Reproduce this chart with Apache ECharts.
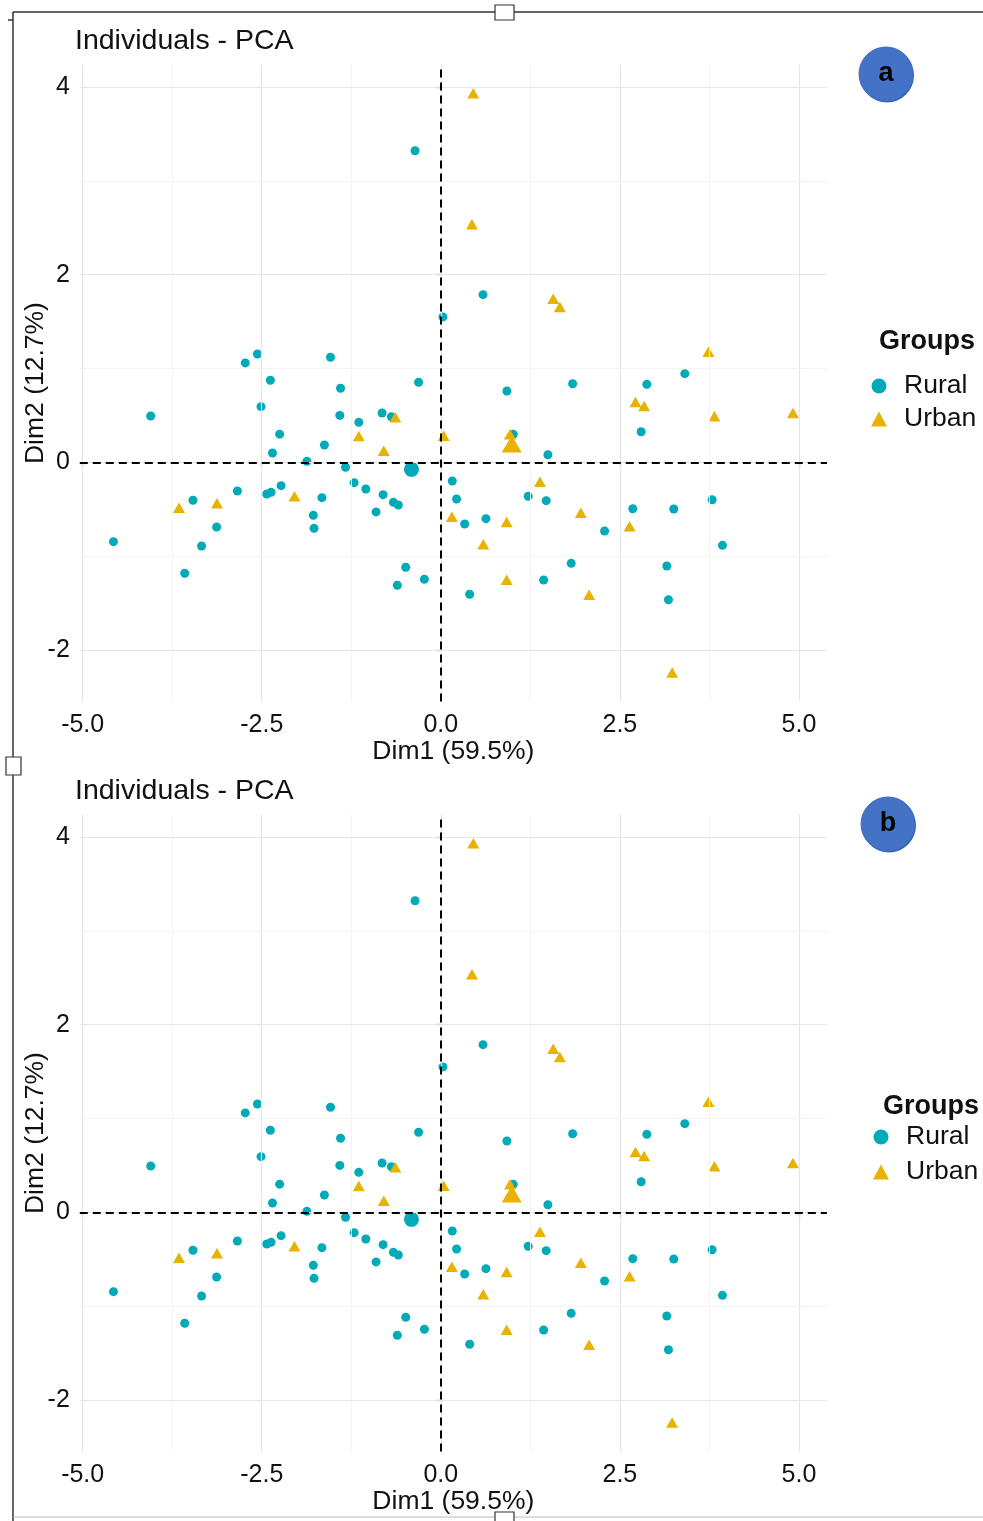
<!DOCTYPE html>
<html>
<head>
<meta charset="utf-8">
<title>Individuals - PCA</title>
<script src="https://cdn.jsdelivr.net/npm/echarts@6/dist/echarts.min.js"></script>
<style>
  html, body { margin: 0; padding: 0; background: #ffffff; }
  #chart { width: 983px; height: 1521px; }
</style>
</head>
<body>
<div id="chart"></div>
<script>
// PCA individual scores (Dim1, Dim2) by group
const ruralPoints = [
  [0.03, 1.55], [-2.56, 1.155], [-2.73, 1.06], [-1.54, 1.12], [-2.38, 0.875],
  [-0.31, 0.853], [-1.40, 0.79], [-4.05, 0.494], [-2.51, 0.593], [-1.41, 0.50],
  [-0.82, 0.526], [-0.69, 0.486], [-1.145, 0.426], [-2.25, 0.30], [-1.625, 0.184],
  [-2.35, 0.099], [-1.87, 0.01], [-1.33, -0.053], [0.16, -0.199], [0.22, -0.391],
  [-1.21, -0.217], [-1.047, -0.285], [-0.806, -0.345], [-0.662, -0.427], [-0.593, -0.455],
  [-0.904, -0.529], [-2.23, -0.249], [-2.43, -0.338], [-2.37, -0.32], [-2.84, -0.306],
  [-1.66, -0.377], [-1.78, -0.565], [-1.77, -0.704], [-3.46, -0.405], [-3.13, -0.69],
  [-3.34, -0.892], [-4.57, -0.846], [-3.575, -1.183], [-0.49, -1.119], [-0.607, -1.311],
  [-0.23, -1.247], [0.923, 0.76], [1.84, 0.838], [2.876, 0.831], [3.406, 0.945],
  [2.797, 0.326], [1.011, 0.298], [1.495, 0.081], [0.333, -0.658], [0.63, -0.601],
  [1.22, -0.362], [1.471, -0.409], [2.68, -0.495], [3.252, -0.498], [3.787, -0.399],
  [2.286, -0.732], [3.932, -0.885], [1.82, -1.077], [3.155, -1.106], [1.435, -1.255],
  [0.403, -1.407], [3.178, -1.465], [-0.36, 3.322], [0.589, 1.787]
];
const urbanPoints = [
  [0.453, 3.934], [0.435, 2.537], [1.569, 1.744], [1.662, 1.656], [3.736, 1.179],
  [2.718, 0.643], [2.838, 0.60], [3.82, 0.49], [4.916, 0.526], [0.04, 0.284],
  [0.965, 0.30], [1.384, -0.207], [1.955, -0.537], [0.154, -0.58], [0.919, -0.636],
  [0.593, -0.874], [2.635, -0.682], [0.919, -1.251], [2.071, -1.411], [3.23, -2.24],
  [-0.635, 0.48], [-1.145, 0.28], [-0.796, 0.124], [-2.043, -0.362], [-3.655, -0.484],
  [-3.125, -0.437]
];
// group centres
const ruralMean = [-0.41, -0.075];
const urbanMean = [0.99, 0.195];

// axis ranges and breaks
const dim1Range = [-5.04, 5.39];
const dim2Range = [-2.55, 4.24];
const dim1Ticks = [-5, -2.5, 0, 2.5, 5];
const dim1Minor = [-3.75, -1.25, 1.25, 3.75];
const dim2Ticks = [-2, 0, 2, 4];
const dim2Minor = [-1, 1, 3];

const groupNames = ['Rural', 'Urban'];
const panelLabels = ['a', 'b'];

const FONT = '"Liberation Sans", Arial, Helvetica, sans-serif';
const COL_RURAL = '#00AAB8';
const COL_URBAN = '#E7B200';

const panels = [
  { off: 0,   legendTop: 371,  legendLeft: 871, legendGap: 3, groupsY: 344,  groupsX: 879, badge: [886, 74] },
  { off: 750, legendTop: 1122, legendLeft: 873, legendGap: 5, groupsY: 1109, groupsX: 883, badge: [888, 824] }
];

const grids = [], xAxes = [], yAxes = [], series = [], titles = [], legends = [], graphics = [];

panels.forEach((p, i) => {
  grids.push({ left: 79.8, top: 64.6 + p.off, width: 747.1, height: 636.9 });

  xAxes.push({
    gridIndex: i, type: 'value', min: dim1Range[0], max: dim1Range[1],
    name: 'Dim1 (59.5%)', nameLocation: 'middle', nameGap: 34,
    nameTextStyle: { fontSize: 26.5, color: '#111', fontFamily: FONT },
    axisLine: { show: false },
    axisTick: { show: true, customValues: dim1Ticks, length: 5, lineStyle: { color: '#444', width: 1.2 } },
    axisLabel: { customValues: dim1Ticks, margin: 11, fontSize: 25, color: '#111', fontFamily: FONT,
                 formatter: v => v.toFixed(1) },
    splitLine: { show: false }
  });
  yAxes.push({
    gridIndex: i, type: 'value', min: dim2Range[0], max: dim2Range[1],
    name: 'Dim2 (12.7%)', nameLocation: 'middle', nameGap: 31, nameMoveOverlap: false,
    nameTextStyle: { fontSize: 26.5, color: '#111', fontFamily: FONT },
    axisLine: { show: false },
    axisTick: { show: true, customValues: dim2Ticks, length: 5, lineStyle: { color: '#444', width: 1.2 } },
    axisLabel: { customValues: dim2Ticks, margin: 10, fontSize: 25, color: '#111', fontFamily: FONT,
                 formatter: v => String(Math.round(v)) },
    splitLine: { show: false }
  });

  // background grid (major + minor) drawn as mark lines
  const major = { color: '#E6E6E6', width: 1.2, type: 'solid' };
  const minor = { color: '#F3F3F3', width: 1, type: 'solid' };
  const gridLines = []
    .concat(dim1Ticks.map(v => ({ xAxis: v, lineStyle: major })))
    .concat(dim1Minor.map(v => ({ xAxis: v, lineStyle: minor })))
    .concat(dim2Ticks.map(v => ({ yAxis: v, lineStyle: major })))
    .concat(dim2Minor.map(v => ({ yAxis: v, lineStyle: minor })));
  series.push({
    type: 'scatter', xAxisIndex: i, yAxisIndex: i, data: [], silent: true, z: 1,
    markLine: { silent: true, symbol: 'none', label: { show: false }, animation: false, data: gridLines }
  });
  // reference lines through the origin
  series.push({
    type: 'scatter', xAxisIndex: i, yAxisIndex: i, data: [], silent: true, z: 2,
    markLine: {
      silent: true, symbol: 'none', label: { show: false }, animation: false,
      lineStyle: { color: '#000', width: 2, type: [8, 5] },
      data: [{ xAxis: 0 }, { yAxis: 0 }]
    }
  });

  series.push({
    name: groupNames[0], type: 'scatter', xAxisIndex: i, yAxisIndex: i, z: 3,
    symbol: 'circle', symbolSize: 9, itemStyle: { color: COL_RURAL, opacity: 1 },
    data: ruralPoints
  });
  series.push({
    name: groupNames[1], type: 'scatter', xAxisIndex: i, yAxisIndex: i, z: 3,
    symbol: 'triangle', symbolSize: [12, 10.5], itemStyle: { color: COL_URBAN, opacity: 1 },
    data: urbanPoints
  });
  series.push({
    name: 'Rural mean', type: 'scatter', xAxisIndex: i, yAxisIndex: i, z: 4,
    symbol: 'circle', symbolSize: 15, itemStyle: { color: COL_RURAL, opacity: 1 },
    data: [ruralMean]
  });
  series.push({
    name: 'Urban mean', type: 'scatter', xAxisIndex: i, yAxisIndex: i, z: 4,
    symbol: 'triangle', symbolSize: [20, 17], itemStyle: { color: COL_URBAN, opacity: 1 },
    data: [urbanMean]
  });

  titles.push({
    text: 'Individuals - PCA', left: 75, top: 27 + p.off, padding: 0,
    textStyle: { fontSize: 28.5, fontWeight: 'normal', color: '#111', fontFamily: FONT }
  });

  legends.push({
    orient: 'vertical', left: p.legendLeft, top: p.legendTop, padding: 0,
    itemWidth: 16, itemHeight: 15, itemGap: p.legendGap, selectedMode: false,
    textStyle: { fontSize: 26.5, color: '#111', fontFamily: FONT, lineHeight: 30, padding: [0, 0, 0, 12] },
    data: [{ name: groupNames[0], icon: 'circle' }, { name: groupNames[1], icon: 'triangle' }]
  });

  graphics.push({
    type: 'text', left: p.groupsX, top: p.groupsY - 16,
    style: { text: 'Groups', font: 'bold 27px ' + FONT, fill: '#111' }
  });

  // panel badge
  graphics.push({
    type: 'circle', shape: { cx: p.badge[0] + 1, cy: p.badge[1] + 1.5, r: 27 },
    style: { fill: '#3565B5' }, z: 10
  });
  graphics.push({
    type: 'circle', shape: { cx: p.badge[0], cy: p.badge[1], r: 27 },
    style: { fill: '#4472C4', stroke: '#3E6CC0', lineWidth: 1 }, z: 11
  });
  graphics.push({
    type: 'text', x: p.badge[0], y: p.badge[1], z: 12,
    style: { text: panelLabels[i], font: 'bold 27px ' + FONT, fill: '#000', align: 'center', verticalAlign: 'middle' }
  });
});

// surrounding frame with its handles
const frame = { stroke: '#333', lineWidth: 1.5, fill: null };
graphics.push(
  { type: 'polyline', shape: { points: [[13, 12], [983, 12]] }, style: frame },
  { type: 'polyline', shape: { points: [[13, 12], [13, 757]] }, style: frame },
  { type: 'polyline', shape: { points: [[13, 775], [13, 1521]] }, style: frame },
  { type: 'polyline', shape: { points: [[8, 20], [13, 20]] }, style: frame },
  { type: 'rect', shape: { x: 6, y: 757, width: 15, height: 18 }, style: { stroke: '#333', lineWidth: 1.2, fill: '#fff' } },
  { type: 'rect', shape: { x: 495, y: 5, width: 19, height: 15 }, style: { stroke: '#333', lineWidth: 1.2, fill: '#fff' } },
  { type: 'polyline', shape: { points: [[13, 1517], [983, 1517]] }, style: { stroke: '#bbb', lineWidth: 1.2, fill: null } },
  { type: 'rect', shape: { x: 495, y: 1512, width: 19, height: 12 }, style: { stroke: '#333', lineWidth: 1.2, fill: '#fff' } }
);

const chart = echarts.init(document.getElementById('chart'), null, { renderer: 'canvas' });
chart.setOption({
  animation: false,
  backgroundColor: '#ffffff',
  title: titles,
  legend: legends,
  grid: grids,
  xAxis: xAxes,
  yAxis: yAxes,
  series: series,
  graphic: graphics
});
</script>
</body>
</html>
